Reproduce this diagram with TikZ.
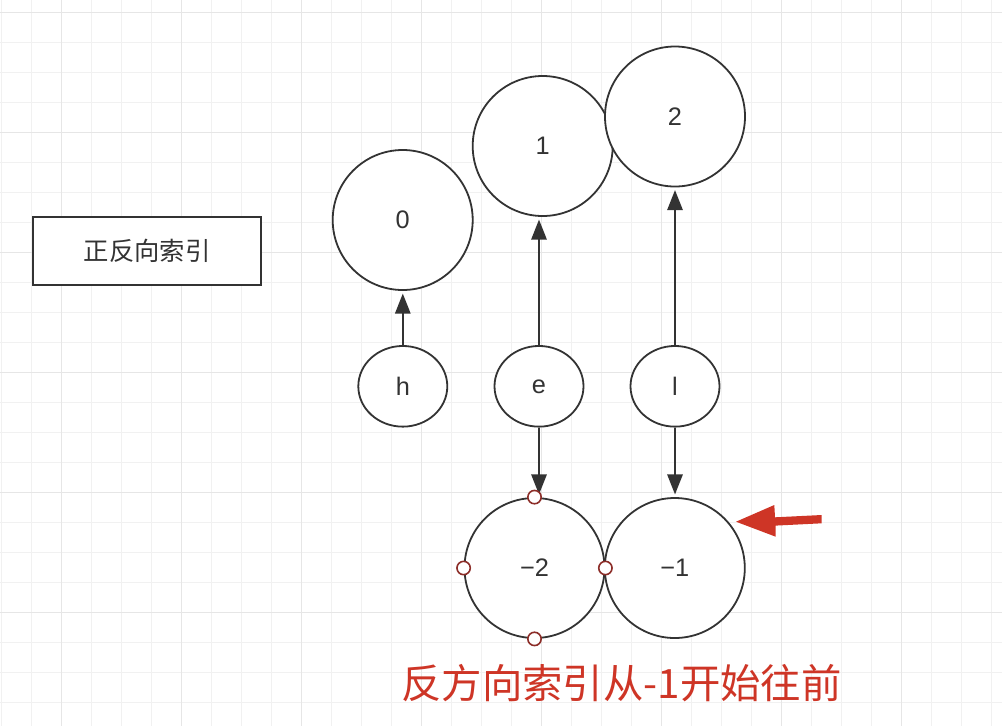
\documentclass[tikz,border=0pt]{standalone}
\usepackage{fontspec}
\setmainfont{Liberation Sans}
\newfontfamily\cjk{Noto Sans CJK SC}
\usetikzlibrary{arrows.meta,shapes.geometric}
\definecolor{ink}{HTML}{333333}
\definecolor{gridminor}{HTML}{F1F1F1}
\definecolor{gridmajor}{HTML}{E6E6E6}
\definecolor{redtxt}{RGB}{206,53,38}
\definecolor{handle}{RGB}{140,45,40}
\tikzset{
  x=0.75pt, y=-0.75pt,
  minorline/.style={draw=gridminor, line width=0.75pt},
  majorline/.style={draw=gridmajor, line width=1.1pt},
  bigcirc/.style={circle, draw=ink, fill=white, line width=1.35pt, minimum size=105pt, inner sep=0pt, font=\fontsize{19pt}{22pt}\selectfont, text=ink},
  charnode/.style={ellipse, draw=ink, fill=white, line width=1.35pt, minimum width=66.75pt, minimum height=60.5pt, inner sep=0pt, font=\fontsize{19pt}{22pt}\selectfont, text=ink},
  titlebox/.style={rectangle, draw=ink, fill=white, line width=1.35pt, minimum width=171.4pt, minimum height=51.4pt, inner sep=0pt, font=\cjk\fontsize{19pt}{22pt}\selectfont, text=ink},
  arr/.style={draw=ink, line width=1.35pt, -{Triangle[width=11.5pt,length=15pt]}, shorten >=2pt},
  handlept/.style={circle, draw=handle, fill=white, line width=1.2pt, minimum size=10pt, inner sep=0pt},
  redarrow/.style={fill=redtxt, draw=none},
  note/.style={font=\cjk\fontsize{30.3pt}{34pt}\selectfont, text=redtxt, inner sep=0pt}
}
\begin{document}
\begin{tikzpicture}
\fill[white] (0,0) rectangle (1002,726);
\useasboundingbox (0,0) rectangle (1002,726);
% grid
\foreach \i in {0,...,33} \draw[minorline] (1.5+30*\i,0) -- ++(0,726);
\foreach \j in {0,...,23} \draw[minorline] (0,12.7+30*\j) -- ++(1002,0);
\foreach \i in {0,...,7} \draw[majorline] (61.5+120*\i,0) -- ++(0,726);
\foreach \j in {0,...,5} \draw[majorline] (0,12.7+120*\j) -- ++(1002,0);

% title box
\node[titlebox] (title) at (147,251) {正反向索引};

% positive index circles
\node[bigcirc] (c0) at (402.7,220) {0};
\node[bigcirc] (c1) at (542.7,146) {1};
\node[bigcirc] (c2) at (675,116.5) {2};

% characters
\node[charnode] (h) at (402.8,386.3) {h};
\node[charnode] (e) at (539,386.3) {e};
\node[charnode] (l) at (675,386.3) {l};

% negative index circles
\node[bigcirc] (m2) at (534.5,568) {−2};
\node[bigcirc] (m1) at (674.8,568) {−1};

% connectors
\draw[arr] (h.north) -- (h.north |- c0.south);
\draw[arr] (e.north) -- (e.north |- c1.south);
\draw[arr] (l.north) -- (l.north |- c2.south);
\draw[arr] (e.south) -- (e.south |- m2.north);
\draw[arr] (l.south) -- (l.south |- m1.north);

% selection handles on -2
\node[handlept] (hn) at (m2.north) {};
\node[handlept] (hw) at (m2.west) {};
\node[handlept] (he) at (m2.east) {};
\node[handlept] (hs) at (m2.south) {};

% red pointer arrow
\fill[redarrow] (736,521.7) -- (774.3,505) -- (775,517.3) -- (821.7,515) -- (821.7,523.3) -- (775.5,525.6) -- (775.7,536.7) -- cycle;

% red note
\node[note] (note) at (621.5,683) {反方向索引从-1开始往前};
\end{tikzpicture}
\end{document}
